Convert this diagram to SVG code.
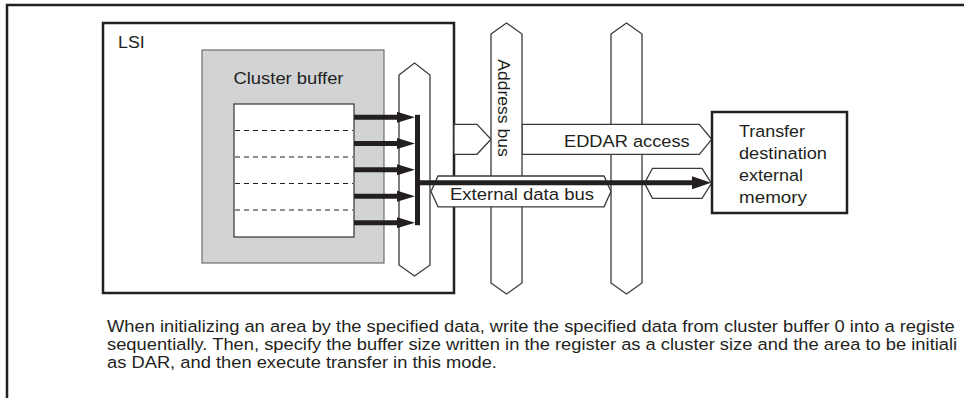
<svg xmlns="http://www.w3.org/2000/svg" width="964" height="398" viewBox="0 0 964 398">
  <style>
    text { font-family: "Liberation Sans", Arial, Helvetica, sans-serif; font-size: 16.3px; fill: #231f20; }
    .frame { fill: none; stroke: #231f20; stroke-width: 2.5; }
    .bus { fill: #ffffff; stroke: #3a3a3a; stroke-width: 1.3; stroke-linejoin: miter; }
    .thick { fill: none; stroke: #231f20; stroke-width: 5; }
    .dash { stroke: #231f20; stroke-width: 1.2; stroke-dasharray: 5 4; }
  </style>
  <defs>
    <marker id="headSmall" markerUnits="userSpaceOnUse" markerWidth="18" markerHeight="11" refX="0" refY="5.5" orient="auto">
      <path d="M0,0 L18,5.5 L0,11 Z" fill="#231f20"/>
    </marker>
    <marker id="headBig" markerUnits="userSpaceOnUse" markerWidth="19" markerHeight="13" refX="0" refY="6.5" orient="auto">
      <path d="M0,0 L19,6.5 L0,13 Z" fill="#231f20"/>
    </marker>
  </defs>

  <g id="page-frame">
    <path class="frame" d="M7,398 V5 H964"/>
  </g>

  <g id="lsi">
    <rect class="frame" x="103" y="23" width="351" height="270"/>
    <text x="118" y="48" textLength="26.7" lengthAdjust="spacingAndGlyphs">LSI</text>
  </g>

  <g id="cluster-buffer">
    <rect x="202" y="50" width="182" height="213" fill="#d1d3d4" stroke="#555555" stroke-width="1"/>
    <text x="233.5" y="83.5" textLength="110" lengthAdjust="spacingAndGlyphs">Cluster buffer</text>
    <rect x="234" y="104" width="120" height="133" fill="#ffffff" stroke="#333333" stroke-width="1.2"/>
    <line class="dash" x1="235" y1="130.5" x2="353" y2="130.5"/>
    <line class="dash" x1="235" y1="157" x2="353" y2="157"/>
    <line class="dash" x1="235" y1="183.5" x2="353" y2="183.5"/>
    <line class="dash" x1="235" y1="210" x2="353" y2="210"/>
  </g>

  <g id="internal-bus">
    <polygon class="bus" points="399,75 414.5,63 430,75 430,265 414.5,276 399,265"/>
  </g>

  <g id="bus-right">
    <polygon class="bus" points="611,34 626.5,23 642,34 642,283 626.5,294 611,283"/>
  </g>

  <g id="eddar-access">
    <polygon class="bus" points="522,124.3 699.3,124.3 711.7,139.3 699.3,154.3 522,154.3"/>
    <polygon class="bus" points="454,124.3 477,124.3 491,139.3 477,154.3 454,154.3"/>
    <text x="564" y="146.8" textLength="125.7" lengthAdjust="spacingAndGlyphs">EDDAR access</text>
  </g>

  <g id="address-bus">
    <polygon class="bus" points="491,34 506.5,23 522,34 522,283 506.5,294 491,283"/>
    <text transform="translate(497.5,59.3) rotate(90)" x="0" y="0" textLength="97.4" lengthAdjust="spacingAndGlyphs">Address bus</text>
  </g>

  <g id="external-data-bus">
    <polygon class="bus" points="438,176 604,176 611,191.4 604,206.8 438,206.8 431,191.4"/>
    <text x="450" y="200" textLength="144" lengthAdjust="spacingAndGlyphs">External data bus</text>
  </g>

  <g id="data-port">
    <polygon class="bus" points="652.5,168.3 702,168.3 711.5,183.3 702,198.3 652.5,198.3 644.5,183.3"/>
  </g>

  <g id="memory">
    <rect class="frame" x="712" y="112" width="135" height="101" fill="#ffffff"/>
    <text x="739" y="137" textLength="66" lengthAdjust="spacingAndGlyphs">Transfer</text>
    <text x="739" y="159" textLength="88" lengthAdjust="spacingAndGlyphs">destination</text>
    <text x="739" y="181" textLength="64" lengthAdjust="spacingAndGlyphs">external</text>
    <text x="739" y="202.5" textLength="68" lengthAdjust="spacingAndGlyphs">memory</text>
  </g>

  <g id="connectors">
    <line class="thick" x1="354" y1="117.3" x2="397" y2="117.3" marker-end="url(#headSmall)"/>
    <line class="thick" x1="354" y1="143.5" x2="397" y2="143.5" marker-end="url(#headSmall)"/>
    <line class="thick" x1="354" y1="169.8" x2="397" y2="169.8" marker-end="url(#headSmall)"/>
    <line class="thick" x1="354" y1="196.2" x2="397" y2="196.2" marker-end="url(#headSmall)"/>
    <line class="thick" x1="354" y1="222.7" x2="397" y2="222.7" marker-end="url(#headSmall)"/>
    <line class="thick" x1="417.5" y1="114.8" x2="417.5" y2="225.2"/>
    <line class="thick" x1="415" y1="182.8" x2="692" y2="182.8" marker-end="url(#headBig)"/>
  </g>

  <g id="caption">
    <text transform="translate(107,331.6) scale(1.125,1)" x="0" y="0">When initializing an area by the specified data, write the specified data from cluster buffer 0 into a registe</text>
    <text transform="translate(107,350) scale(1.125,1)" x="0" y="0">sequentially. Then, specify the buffer size written in the register as a cluster size and the area to be initiali</text>
    <text transform="translate(107,368.3) scale(1.125,1)" x="0" y="0">as DAR, and then execute transfer in this mode.</text>
  </g>
</svg>
